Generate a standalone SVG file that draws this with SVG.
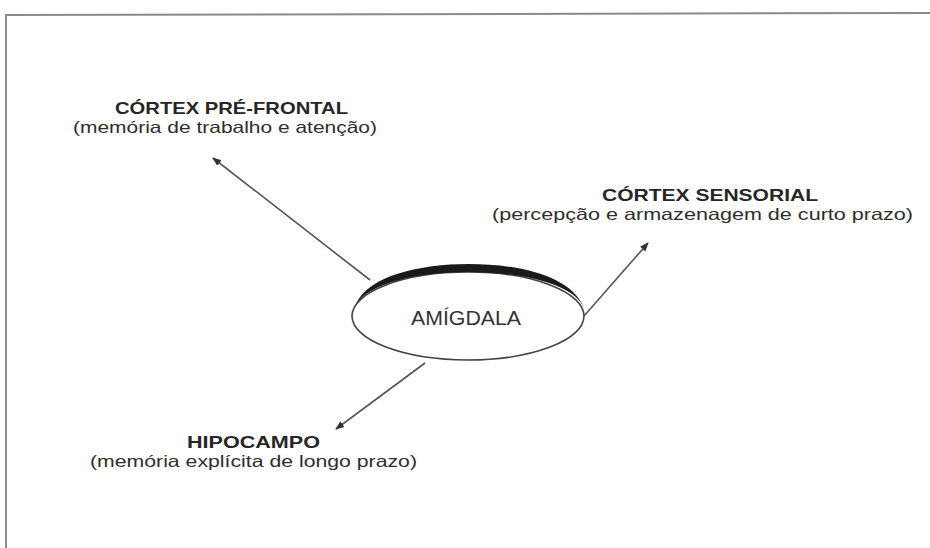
<svg xmlns="http://www.w3.org/2000/svg" width="930" height="548" viewBox="0 0 930 548">
  <defs>
    <marker id="arrow" viewBox="0 0 10 10" refX="9" refY="5" markerWidth="9" markerHeight="9" markerUnits="userSpaceOnUse" orient="auto">
      <path d="M0,1 L10,5 L0,9 Z" fill="#333"/>
    </marker>
    <style>
      .frame { fill: none; stroke: #8a8a8a; stroke-width: 2; }
      .link { fill: none; stroke: #555; stroke-width: 1.6; marker-end: url(#arrow); }
      .title { font-family: "Liberation Sans", Arial, sans-serif; font-weight: bold; font-size: 16.5px; fill: #262626; }
      .sub { font-family: "Liberation Sans", Arial, sans-serif; font-size: 16.5px; fill: #2e2e2e; }
      .center { font-family: "Liberation Sans", Arial, sans-serif; font-size: 19.5px; fill: #333; }
    </style>
  </defs>
  <rect width="930" height="548" fill="#fff"/>

  <!-- page frame -->
  <path class="frame" d="M6,548 L6,15 L930,13"/>

  <!-- connectors -->
  <g id="connectors">
    <line class="link" x1="370" y1="280" x2="213" y2="158"/>
    <line class="link" x1="584" y1="316" x2="648" y2="243"/>
    <line class="link" x1="425" y1="363" x2="336" y2="429"/>
  </g>

  <!-- central node -->
  <g id="amigdala">
    <ellipse cx="468" cy="316" rx="116" ry="44" fill="#fff" stroke="#444" stroke-width="1.6"/>
    <!-- heavy shading along the upper rim -->
    <path d="M356,304 C368,276 420,264 468,264 C522,264 572,277 584,308 C574,284 522,272 468,272 C418,272 370,283 356,304 Z" fill="#1a1a1a"/>
    <text class="center" x="411" y="325" textLength="110" lengthAdjust="spacingAndGlyphs">AMÍGDALA</text>
  </g>

  <g id="cortex-prefrontal">
    <text class="title" x="115" y="114" textLength="233" lengthAdjust="spacingAndGlyphs">CÓRTEX PRÉ-FRONTAL</text>
    <text class="sub" x="73" y="133" textLength="304" lengthAdjust="spacingAndGlyphs">(memória de trabalho e atenção)</text>
  </g>

  <g id="cortex-sensorial">
    <text class="title" x="602" y="201" textLength="216" lengthAdjust="spacingAndGlyphs">CÓRTEX SENSORIAL</text>
    <text class="sub" x="492" y="220" textLength="421" lengthAdjust="spacingAndGlyphs">(percepção e armazenagem de curto prazo)</text>
  </g>

  <g id="hipocampo">
    <text class="title" x="187" y="448" textLength="133" lengthAdjust="spacingAndGlyphs">HIPOCAMPO</text>
    <text class="sub" x="90" y="467" textLength="327" lengthAdjust="spacingAndGlyphs">(memória explícita de longo prazo)</text>
  </g>
</svg>
